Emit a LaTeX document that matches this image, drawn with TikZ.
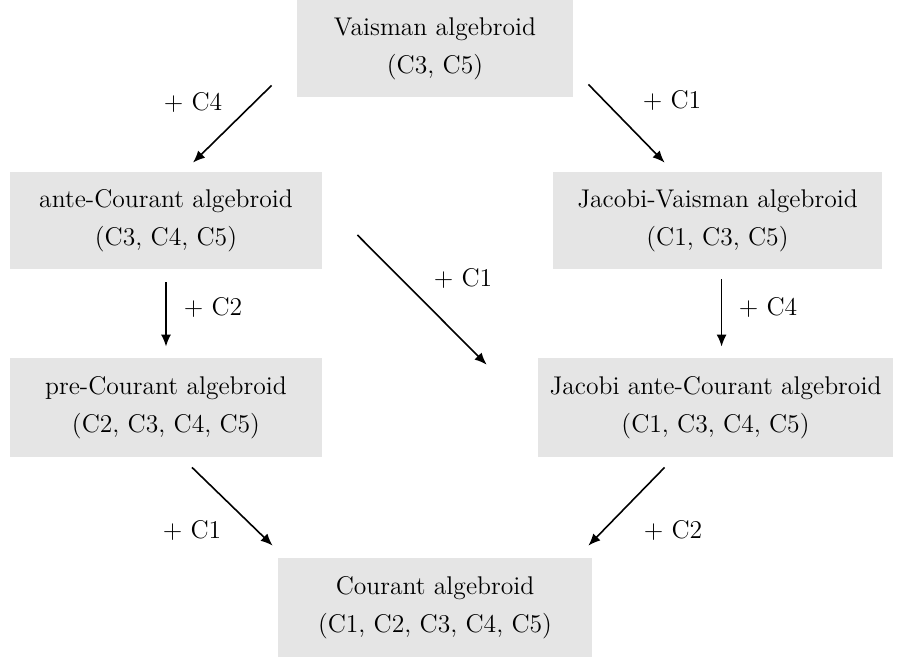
\documentclass[tikz,border=0pt]{standalone}
\usepackage{amssymb, amsmath}
\usepackage{tikz}
\usetikzlibrary{arrows, arrows.meta, calc}

\begin{document}
\begin{tikzpicture}[x=0.5pt,y=-0.5pt]
      \tikzset{algbox/.style={fill=black!10,
          inner sep=0pt,
          minimum width=#1,
          minimum height=48.5pt,
          align=center,
          font=\fontsize{12.8}{19}\selectfont},
        arr/.style={-{Latex[length=6pt,width=5pt]}, line width=0.8pt},
        plus/.style={font=\fontsize{12.8}{15}\selectfont}
      }
      \useasboundingbox (0,0) rectangle (901,661);
      \node [algbox=138pt] (vaisman) at (435,48.5) {Vaisman algebroid\\(C3, C5)};
      \node [algbox=156pt] (ante) at (166,220.5) {ante-Courant algebroid\\(C3, C4, C5)};
      \node [algbox=164.5pt] (jvaisman) at (717.5,220.5) {Jacobi-Vaisman algebroid\\(C1, C3, C5)};
      \node [algbox=156pt, minimum height=49.5pt] (pre) at (166,407.5) {pre-Courant algebroid\\(C2, C3, C4, C5)};
      \node [algbox=177.5pt, minimum height=49.5pt] (jante) at (715.5,407.5) {Jacobi ante-Courant algebroid\\(C1, C3, C4, C5)};
      \node [algbox=157pt, minimum height=49.5pt] (courant) at (435,607.5) {Courant algebroid\\(C1, C2, C3, C4, C5)};

      \draw [arr] ($(vaisman.south west)+(-25,-12)$) -- ($(ante.north)+(27,-9)$);
      \draw [arr] ($(vaisman.south east)+(15,-13)$) -- ($(jvaisman.north west)+(112,-9)$);
      \draw [arr] ($(ante.east)+(35,14.5)$) -- ($(jante.north west)+(-51,7)$);
      \draw [arr] ($(ante.south)+(0,13)$) -- ($(pre.north)+(0,-11)$);
      \draw [arr] ($(jvaisman.south west)+(169,10)$) -- ($(jante.north west)+(184,-11)$);
      \draw [arr] ($(pre.south)+(26,10)$) -- ($(courant.north west)+(-5,-12)$);
      \draw [arr] ($(jante.south west)+(127,10)$) -- ($(courant.north east)+(-4,-12)$);

      \node [plus] (c4a) at (193,102) {+ C4};
      \node [plus] (c1a) at (672,100) {+ C1};
      \node [plus] (c1b) at (463,278) {+ C1};
      \node [plus] (c2a) at (213,307) {+ C2};
      \node [plus] (c4b) at (768,307) {+ C4};
      \node [plus] (c1c) at (192,530) {+ C1};
      \node [plus] (c2b) at (673,530) {+ C2};
    \end{tikzpicture}
\end{document}
